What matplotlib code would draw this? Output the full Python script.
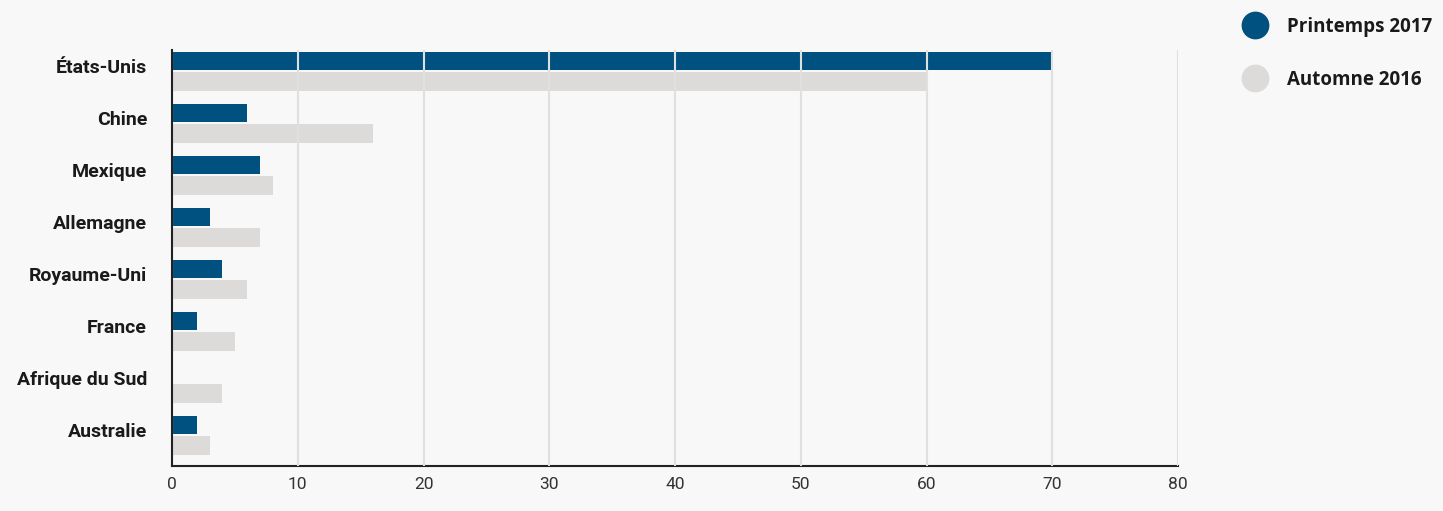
import numpy as np
import matplotlib
matplotlib.use("Agg")
import matplotlib.pyplot as plt
from matplotlib.lines import Line2D

# data
pays = ['États-Unis', 'Chine', 'Mexique', 'Allemagne', 'Royaume-Uni',
        'France', 'Afrique du Sud', 'Australie']
printemps_2017 = [70, 6, 7, 3, 4, 2, 0, 2]
automne_2016 = [60, 16, 8, 7, 6, 5, 4, 3]
x_ticks = [0, 10, 20, 30, 40, 50, 60, 70, 80]

bleu = '#00517f'
gris = '#dcdbda'
fond = '#f8f8f8'

fig = plt.figure(figsize=(14.43, 5.11), dpi=100, facecolor=fond)
ax = fig.add_axes([0.1192, 0.0881, 0.6972, 0.8141], facecolor=fond)

pos = np.arange(len(pays))
ax.barh(pos + 0.216, printemps_2017, height=0.356, color=bleu, zorder=2)
ax.barh(pos + 0.606, automne_2016, height=0.365, color=gris, zorder=2)

ax.set_ylim(len(pays), 0)
ax.set_xlim(0, 80)
ax.set_xticks(x_ticks)
ax.set_yticks(pos + 0.3)
ax.set_yticklabels(pays, fontfamily='Roboto', fontweight='bold',
                   fontsize=14, color='#1a1a1a')
ax.set_xticklabels([str(v) for v in x_ticks], fontfamily='Roboto',
                   fontsize=12.5, color='#333333')
ax.tick_params(axis='both', length=0)
ax.tick_params(axis='y', pad=18)
ax.tick_params(axis='x', pad=8)

ax.grid(axis='x', color='#e0e0e0', linewidth=1.5, zorder=3)
ax.set_axisbelow(False)
for s in ['top', 'right']:
    ax.spines[s].set_visible(False)
ax.spines['left'].set_color('#222222')
ax.spines['bottom'].set_color('#222222')
ax.spines['left'].set_linewidth(1.5)
ax.spines['bottom'].set_linewidth(1.5)
ax.spines['left'].set_zorder(4)

handles = [Line2D([], [], marker='o', linestyle='', markersize=19,
                  markerfacecolor=bleu, markeredgecolor=bleu),
           Line2D([], [], marker='o', linestyle='', markersize=19,
                  markerfacecolor=gris, markeredgecolor=gris)]
leg = fig.legend(handles, ['Printemps 2017', 'Automne 2016'],
                 loc='upper left', bbox_to_anchor=(0.8465, 1.0),
                 frameon=False, labelspacing=1.75, handletextpad=0.8,
                 handlelength=1.8,
                 prop={'family': 'Open Sans', 'weight': 'bold', 'size': 13.5})
for t in leg.get_texts():
    t.set_color('#1a1a1a')

fig.savefig('out.png', dpi=100, facecolor=fond)
